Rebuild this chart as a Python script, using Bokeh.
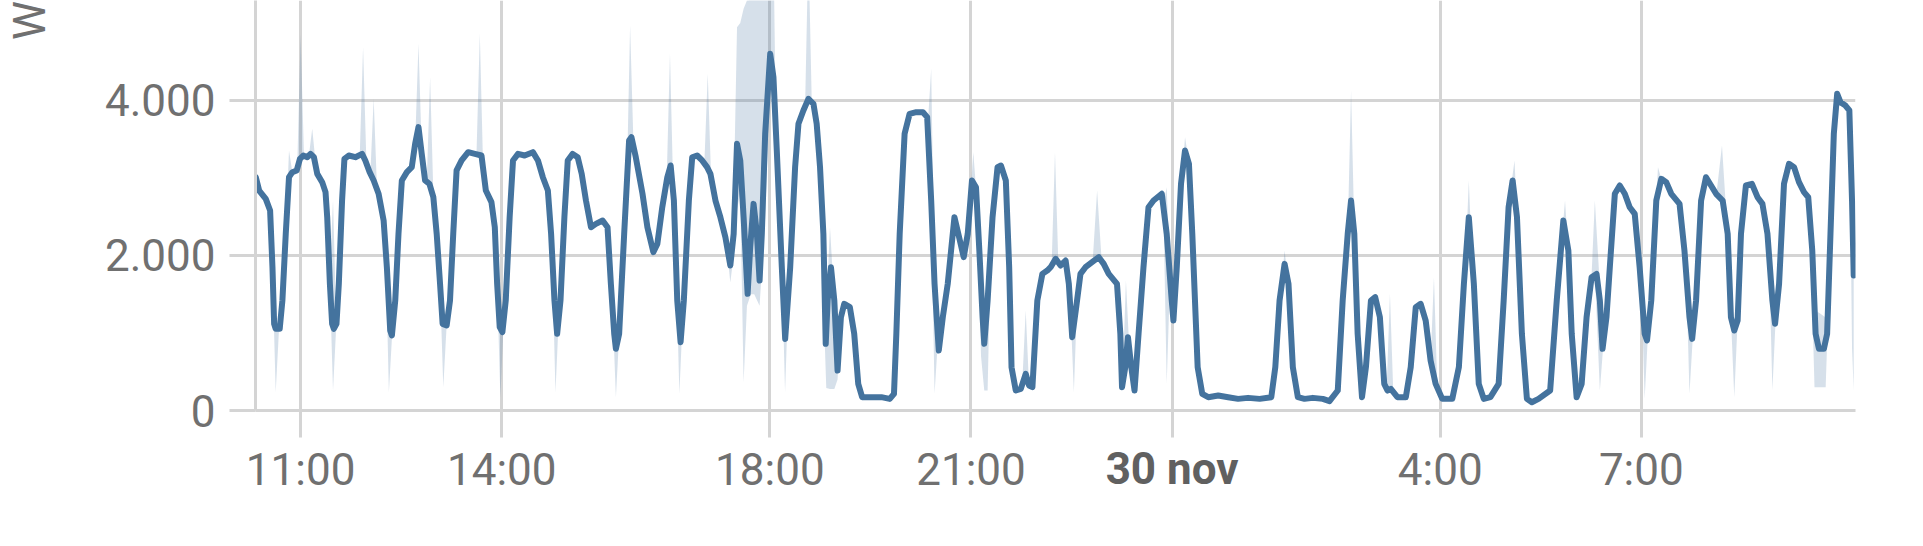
from bokeh.plotting import figure
from bokeh.models import Range1d, FixedTicker, ColumnDataSource, LinearAxis
from bokeh.embed import file_html
from bokeh.resources import INLINE

# time in minutes after 29 Nov 10:00, power in W (5-min mean)
mean_t = [19.9, 22.9, 28.8, 32.7, 34.8, 36.3, 37.7, 41.3, 43.7, 46.7, 49.6, 52.6, 56.5, 59.4, 62.4, 66.0, 68.9, 71.9,
          74.9, 79.3, 82.3, 83.8, 86.2, 88.2, 89.7, 92.1, 94.2, 97.1, 99.2, 103.1, 109.0, 115.0, 117.9, 121.8, 125.4,
          129.8, 134.3, 137.2, 140.2, 141.7, 144.7, 147.6, 150.6, 155.1, 159.5, 162.5, 165.5, 168.4, 171.4, 175.3,
          178.8, 181.8, 184.8, 187.1, 190.7, 193.7, 196.6, 199.6, 204.1, 210.0, 216.0, 221.9, 225.8, 230.8, 233.8,
          235.9, 238.2, 240.6, 243.6, 247.1, 250.1, 254.6, 260.5, 267.9, 272.4, 276.8, 281.3, 284.2, 287.2, 289.6,
          292.6, 296.1, 299.1, 303.5, 308.0, 311.6, 315.4, 319.9, 324.3, 330.3, 334.7, 337.7, 340.7, 342.2, 345.1,
          349.6, 354.0, 356.1, 360.0, 366.0, 370.4, 375.7, 379.3, 383.7, 388.2, 391.2, 394.1, 397.1, 400.1, 403.0,
          407.5, 410.5, 414.9, 419.4, 423.8, 426.8, 431.3, 435.7, 440.2, 444.6, 447.6, 450.6, 453.5, 456.5, 460.1,
          462.4, 465.4, 468.4, 470.8, 472.8, 475.8, 480.3, 483.2, 486.2, 490.7, 493.7, 498.2, 502.6, 505.6, 510.0,
          514.5, 519.0, 521.9, 524.9, 527.9, 530.0, 531.7, 534.7, 537.7, 540.6, 543.6, 546.6, 551.6, 555.5, 559.1,
          562.6, 571.0, 579.8, 587.3, 591.1, 593.2, 596.2, 600.6, 605.1, 611.0, 617.0, 620.8, 624.4, 627.4, 631.2,
          634.8, 639.2, 642.2, 645.2, 648.7, 653.5, 657.1, 660.9, 664.5, 667.5, 670.4, 671.9, 674.9, 679.3, 683.8,
          686.8, 691.2, 694.2, 696.3, 700.1, 704.6, 709.0, 712.0, 715.0, 719.4, 723.9, 728.3, 731.3, 735.8, 740.2,
          744.7, 747.6, 750.6, 754.2, 758.0, 762.5, 768.4, 774.4, 778.8, 783.3, 790.7, 793.7, 795.2, 798.1, 800.5,
          803.5, 806.4, 810.0, 814.4, 818.9, 823.4, 830.8, 835.2, 839.7, 841.2, 844.2, 848.0, 851.6, 855.1, 858.1,
          860.5, 862.9, 867.0, 872.4, 881.3, 890.2, 899.1, 908.0, 918.4, 928.8, 932.4, 936.2, 940.7, 944.2, 948.1,
          952.6, 958.5, 966.0, 974.9, 980.9, 988.3, 992.7, 997.2, 1000.2, 1003.1, 1006.1, 1010.0, 1013.5, 1018.0,
          1021.8, 1026.0, 1029.9, 1032.8, 1035.8, 1041.7, 1049.2, 1053.6, 1058.1, 1062.5, 1067.0, 1071.4, 1075.9,
          1081.8, 1090.8, 1096.7, 1101.2, 1105.6, 1110.1, 1114.5, 1119.0, 1124.9, 1132.3, 1136.8, 1141.2, 1144.8,
          1148.7, 1153.1, 1157.6, 1162.0, 1168.0, 1178.4, 1184.3, 1190.2, 1194.7, 1197.7, 1202.1, 1206.6, 1211.0,
          1215.5, 1219.9, 1222.9, 1225.3, 1228.8, 1231.8, 1236.3, 1240.7, 1245.2, 1249.6, 1254.1, 1258.5, 1263.0,
          1265.1, 1268.9, 1273.4, 1277.9, 1282.3, 1286.8, 1294.2, 1298.6, 1303.1, 1305.5, 1309.0, 1313.5, 1317.9,
          1322.4, 1326.9, 1332.8, 1337.3, 1340.2, 1343.2, 1346.2, 1349.2, 1353.6, 1359.0, 1364.0, 1368.4, 1372.9,
          1377.3, 1379.7, 1383.3, 1387.7, 1392.2, 1396.7, 1401.1, 1405.6, 1409.4, 1413.0, 1416.0, 1419.0, 1423.4,
          1426.3, 1429.3, 1432.3, 1435.3, 1438.2, 1442.7, 1446.2, 1448.6, 1450.1]
mean_w = [3010, 2838, 2731, 2580, 1849, 1118, 1054, 1054, 1419, 2279, 3010, 3075, 3097, 3247, 3290, 3268, 3311, 3268,
          3053, 2946, 2817, 2494, 1634, 1118, 1054, 1118, 1634, 2709, 3247, 3290, 3268, 3311, 3226, 3075, 2968,
          2796, 2451, 1849, 1032, 968, 1419, 2279, 2968, 3075, 3140, 3441, 3656, 3311, 2968, 2925,
          2752, 2279, 1634, 1118, 1097, 1419, 2279, 3097, 3226, 3333, 3311, 3290, 2838, 2688, 2365,
          1634, 1075, 1011, 1419, 2494, 3226, 3311, 3290, 3333, 3226, 3010, 2838, 2279, 1419, 989,
          1419, 2494, 3226, 3311, 3268, 3053, 2709, 2365, 2408, 2451, 2365, 1634, 989, 796, 989,
          2279, 3484, 3527, 3268, 2796, 2365, 2043, 2150, 2623, 3010, 3161, 2709, 1419, 882, 1419,
          2709, 3268, 3290, 3226, 3140, 3053, 2709, 2494, 2236, 1871, 2279, 3441, 3226, 2494, 1505,
          2107, 2666, 2279, 1677, 2279, 3570, 4602, 4301, 3355, 1849, 924, 1849, 3140, 3699, 3871,
          4021, 3957, 3699, 3140, 2279, 860, 1419, 1849, 1419, 516, 1204, 1376, 1333, 989, 344,
          172, 172, 172, 150, 215, 989, 2279, 3570, 3828, 3849, 3849, 3785, 2709, 1634, 774,
          1204, 1634, 2064, 2494, 2279, 1978, 2279, 2968, 2881, 2064, 1204, 860, 1419, 2494, 3140,
          3161, 2968, 1849, 559, 258, 279, 473, 323, 301, 1419, 1763, 1806, 1849, 1957, 1871,
          1935, 1634, 946, 1333, 1763, 1849, 1914, 1978, 1892, 1763, 1634, 989, 301, 559, 946,
          559, 258, 989, 1849, 2623, 2709, 2796, 2279, 1419, 1161, 1849, 2925, 3355, 3183, 2279,
          1419, 559, 215, 172, 193, 172, 150, 163, 150, 172, 559, 1419, 1892, 1634, 559,
          172, 150, 163, 150, 120, 258, 1419, 2279, 2709, 2279, 989, 172, 559, 1419,
          1462, 1204, 344, 258, 279, 172, 172, 559, 1333, 1376, 1161, 645, 344,
          150, 150, 559, 1634, 2494, 1634, 344, 150, 172, 344, 1419, 2623, 2968,
          2494, 989, 150, 107, 150, 258, 1419, 2451, 2064, 989, 172, 344, 1204,
          1720, 1763, 1419, 796, 1204, 1849, 2796, 2903, 2796, 2623, 2537, 1849, 989,
          903, 1419, 2709, 2989, 2946, 2796, 2666, 2064, 1204, 924, 1419, 2709, 3010,
          2903, 2796, 2709, 2279, 1204, 1032, 1161, 2279, 2903, 2925, 2752, 2666, 2279,
          1419, 1118, 1634, 2925, 3183, 3140, 2946, 2817, 2752, 2064, 989, 796, 796,
          989, 2279, 3570, 4086, 3978, 3935, 3871, 2709, 1742]

# min / max band (only where it departs from the mean)
band_t = [34.7, 37.7, 40.7, 46.6, 49.6, 52.6, 57.0, 60.0, 63.0, 67.4, 70.4, 73.4, 86.0, 89.0, 92.0,
          112.9, 115.9, 118.9, 122.4, 125.4, 128.4, 136.0, 139.0, 142.0, 162.5, 165.5, 168.5, 172.9, 175.9, 178.9,
          184.7, 187.7, 190.7, 217.4, 220.4, 223.4, 235.8, 238.8, 241.8, 285.1, 288.1, 291.1, 339.2, 342.2, 345.2,
          351.9, 354.9, 357.9, 387.6, 390.6, 393.6, 396.0, 399.0, 402.0, 421.4, 424.4, 427.4,
          441.5, 444.6, 447.6, 450.6, 453.5, 456.5, 459.5, 463.0, 466.0, 470.8, 475.8, 480.3, 483.2, 485.5, 490.7,
          493.6, 496.6, 511.5, 514.5, 517.5, 524.9, 527.9, 530.5, 533.8, 537.7, 540.6, 543.6,
          621.4, 624.4, 627.4, 630.4, 659.1, 662.1, 665.1, 666.5, 669.0, 671.9, 674.9, 677.9, 706.0, 709.0, 712.0,
          732.2, 735.2, 738.2, 749.1, 752.1, 755.1, 768.9, 772.9, 776.9, 795.7, 798.7, 801.7, 832.2, 835.2, 838.2,
          848.6, 851.6, 854.6, 937.7, 940.7, 943.7, 997.2, 1000.2, 1003.2, 1032.0, 1035.0, 1038.0,
          1071.4, 1074.4, 1077.4, 1102.6, 1105.6, 1108.6, 1143.5, 1146.5, 1149.5, 1188.7, 1191.7, 1194.7,
          1215.4, 1218.4, 1222.9, 1226.0, 1260.0, 1263.0, 1266.0, 1271.9, 1274.9, 1277.9, 1300.1, 1303.1, 1306.1,
          1327.2, 1332.2, 1337.2, 1340.2, 1343.2, 1346.2, 1374.3, 1377.3, 1380.3,
          1411.0, 1415.0, 1420.0, 1425.0, 1428.5, 1446.2, 1448.6, 1450.1]
band_lo = [1850, 236, 1054, 2280, 3010, 3075, 3150, 3250, 3290, 3290, 3300, 3200, 1700, 258, 1118,
           3280, 3300, 3200, 3050, 2968, 2850, 2100, 236, 1000, 3441, 3656, 3311, 2950, 2900, 2750,
           1650, 301, 1097, 3300, 3290, 3100, 1650, 172, 1150, 2000, 236, 1200, 1300, 172, 989,
           2900, 3500, 3450, 2950, 3150, 2800, 1900, 215, 1200, 3200, 3100, 3000,
           2100, 1650, 2000, 2600, 2800, 365, 1350, 1500, 1500, 1350, 2500, 4300, 4301, 3500, 1849,
           236, 1500, 3900, 4021, 3980, 3140, 1400, 290, 279, 279, 400, 1204,
           3700, 2709, 215, 900, 2700, 2950, 2750, 2300, 700, 258, 258, 2200, 380, 473, 323,
           1880, 1950, 1900, 1300, 236, 1450, 1920, 1950, 1950, 400, 559, 800, 2650, 344, 1700,
           3000, 3355, 3250, 1600, 1892, 1700, 2279, 2709, 2279, 258, 279, 230,
           645, 450, 300, 1900, 2494, 1900, 2900, 2800, 2300, 2200, 2400, 2064,
           1720, 1763, 258, 850, 1600, 150, 1000, 2300, 2850, 2989, 1800, 215, 950,
           2790, 2709, 2280, 1204, 172, 1161, 2000, 258, 1200,
           2400, 301, 301, 301, 1800, 3871, 800, 258]
band_hi = [1850, 1054, 1054, 2280, 3355, 3075, 3150, 4850, 3290, 3290, 3634, 3200, 1700, 2709, 1118,
           3280, 4688, 3200, 3050, 4021, 2850, 2100, 1350, 1000, 3441, 4731, 3311, 2950, 4301, 2750,
           1650, 1118, 1097, 3300, 4860, 3100, 1650, 1060, 1150, 2000, 1200, 1200, 1300, 796, 989,
           2900, 4967, 3450, 2950, 4602, 2800, 1900, 1100, 1200, 3200, 4344, 3000,
           2100, 2000, 2700, 4946, 5000, 5183, 5290, 5300, 6000, 6000, 6000, 6000, 6000, 3600, 1849,
           924, 1500, 3900, 6000, 3980, 3140, 2279, 1300, 2365, 1419, 600, 1204,
           3700, 4408, 1634, 900, 2700, 3333, 2750, 2300, 1600, 860, 1419, 2200, 380, 1290, 323,
           1880, 3333, 1900, 1300, 1100, 1450, 1920, 2838, 1950, 400, 1677, 800, 2650, 2881, 1700,
           3000, 3527, 3250, 1600, 2064, 1700, 2279, 4129, 2279, 258, 1505, 230,
           645, 1720, 300, 1900, 2968, 1900, 2900, 3226, 2300, 2200, 2709, 2064,
           1720, 2709, 1600, 850, 1600, 989, 1000, 2300, 3140, 2989, 1800, 1204, 950,
           2790, 3419, 2280, 1204, 1032, 1161, 2000, 1419, 1200,
           2400, 1300, 1250, 1200, 1800, 3871, 2709, 1742]

x_ticks = [11, 14, 18, 21, 24, 28, 31]
x_tick_labels = ["11:00", "14:00", "18:00", "21:00", "30 nov", "4:00", "7:00"]
day_ticks = [24]
y_ticks = [0, 2000, 4000]
y_tick_labels = ["0", "2.000", "4.000"]
y_title = "W"

LINE = "#44739e"
GRID = "#d4d4d4"
TEXT = "#707070"
FONT = "Roboto"
FS = "44px"
LABEL_H = 56  # pull-up of the bold day label so it sits on the hour-label row

line_src = ColumnDataSource(dict(x=[10 + t / 60 for t in mean_t], y=mean_w))
band_src = ColumnDataSource(dict(x=[10 + t / 60 for t in band_t], lo=band_lo, hi=band_hi))

p = figure(width=1907, height=530, output_backend="svg", toolbar_location=None,
           x_range=Range1d(10.327, 34.195), y_range=Range1d(0, 5290),
           min_border_left=248, min_border_right=52, min_border_top=0, min_border_bottom=120)
p.outline_line_color = None
p.background_fill_color = "white"
p.border_fill_color = "white"

p.varea(x="x", y1="lo", y2="hi", source=band_src, fill_color=LINE, fill_alpha=0.22)
p.line(x="x", y="y", source=line_src, line_color=LINE, line_width=6, line_join="round", line_cap="round")

p.xaxis.ticker = FixedTicker(ticks=x_ticks)
p.xaxis.major_label_overrides = {t: ("" if t in day_ticks else lab) for t, lab in zip(x_ticks, x_tick_labels)}
p.yaxis.ticker = FixedTicker(ticks=y_ticks)
p.yaxis.major_label_overrides = dict(zip(y_ticks, y_tick_labels))

for ax in (p.xaxis, p.yaxis):
    ax.axis_line_color = GRID
    ax.axis_line_width = 3
    ax.major_tick_line_color = GRID
    ax.major_tick_line_width = 3
    ax.major_tick_in = 0
    ax.minor_tick_line_color = None
    ax.major_label_text_font = FONT
    ax.major_label_text_font_size = FS
    ax.major_label_text_color = TEXT
p.xaxis.major_tick_out = 27
p.xaxis.major_label_standoff = 6
p.yaxis.major_tick_out = 26
p.yaxis.major_label_standoff = 14

# y-axis name, centred on the axis but padded with leading spaces so the letter sits at the top
p.yaxis.axis_label = "\u2003" * 8 + "\u2005" + y_title
p.yaxis.axis_label_standoff = 46
p.yaxis.axis_label_text_font = FONT
p.yaxis.axis_label_text_font_size = FS
p.yaxis.axis_label_text_font_style = "normal"
p.yaxis.axis_label_text_color = TEXT

# bold day label, on a second axis pulled up to the same row as the hour labels
day_axis = LinearAxis(ticker=FixedTicker(ticks=day_ticks),
                      major_label_overrides={t: x_tick_labels[x_ticks.index(t)] for t in day_ticks})
day_axis.axis_line_color = None
day_axis.major_tick_line_color = None
day_axis.minor_tick_line_color = None
day_axis.major_tick_out = 0
day_axis.major_tick_in = 0
day_axis.major_label_standoff = -LABEL_H
day_axis.major_label_text_font = FONT
day_axis.major_label_text_font_size = FS
day_axis.major_label_text_font_style = "bold"
day_axis.major_label_text_color = "#606060"
p.add_layout(day_axis, "below")

p.xgrid.grid_line_color = GRID
p.xgrid.grid_line_width = 3
p.ygrid.grid_line_color = GRID
p.ygrid.grid_line_width = 3

open("out.html", "w").write(file_html(p, INLINE))
